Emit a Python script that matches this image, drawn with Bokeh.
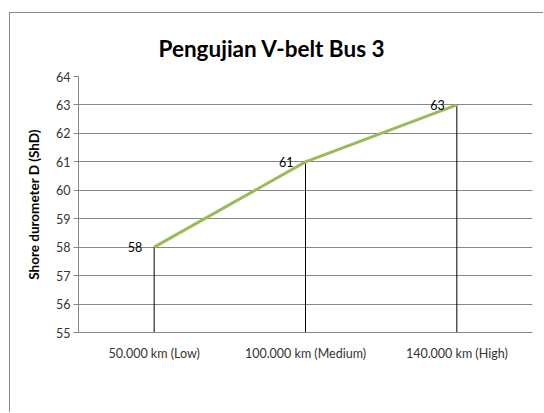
from bokeh.plotting import figure
from bokeh.models import FactorRange, Range1d, ColumnDataSource, FixedTicker
from bokeh.embed import file_html
from bokeh.resources import INLINE
from bokeh.core.properties import value

title_text = "Pengujian V-belt Bus 3"
categories = ["50.000 km (Low)", "100.000 km (Medium)", "140.000 km (High)"]
hardness = [58, 61, 63]
labels = ["58", "61", "63"]
y_ticks = [55, 56, 57, 58, 59, 60, 61, 62, 63, 64]
y_min, y_max = 55, 64

FONT = "Lato"
GRID = "#868686"

src = ColumnDataSource(dict(x=categories, y=hardness, base=[y_min] * len(hardness), lab=labels))

p = figure(x_range=FactorRange(*categories), y_range=Range1d(y_min, y_max),
           width=534, height=400, output_backend="svg", toolbar_location=None,
           min_border_left=68, min_border_right=12, min_border_top=63, min_border_bottom=81,
           title=title_text)
p.styles = {"border-left": "1px solid #868686", "border-top": "1px solid #868686",
            "margin-left": "9px", "margin-top": "12px"}
p.outline_line_color = None
p.background_fill_color = "white"
p.border_fill_color = "white"

p.title.text_font = FONT
p.title.text_font_size = "22.5px"
p.title.text_font_style = "bold"
p.title.text_color = "#000000"
p.title.align = "left"
p.title.offset = 80
p.title.standoff = 30

p.xgrid.grid_line_color = None
p.ygrid.grid_line_color = GRID
p.ygrid.grid_line_width = 1
p.yaxis.ticker = FixedTicker(ticks=y_ticks)

for ax in (p.xaxis, p.yaxis):
    ax.axis_line_color = GRID
    ax.major_label_text_font = FONT
    ax.major_label_text_font_size = "12.5px"
    ax.major_label_text_color = "#333333"
    ax.minor_tick_line_color = None

p.yaxis.major_tick_line_color = GRID
p.yaxis.major_tick_out = 5
p.yaxis.major_tick_in = 0
p.yaxis.major_label_standoff = 3
p.yaxis.axis_label = "Shore durometer D (ShD)"
p.yaxis.axis_label_text_font = FONT
p.yaxis.axis_label_text_font_size = "13.5px"
p.yaxis.axis_label_text_font_style = "bold"
p.yaxis.axis_label_text_color = "#000000"
p.yaxis.axis_label_standoff = 11

p.xaxis.major_tick_line_color = None
p.xaxis.major_label_standoff = 7

p.segment(x0="x", y0="base", x1="x", y1="y", source=src, line_color="black", line_width=1)
p.line(x="x", y="y", source=src, line_color="#9BBB59", line_width=3)
p.text(x="x", y="y", text="lab", source=src, text_align="right", text_baseline="middle",
       x_offset=-12, text_font=value(FONT), text_font_size="12.5px", text_color="#000000")

open("out.html", "w").write(file_html(p, INLINE))
